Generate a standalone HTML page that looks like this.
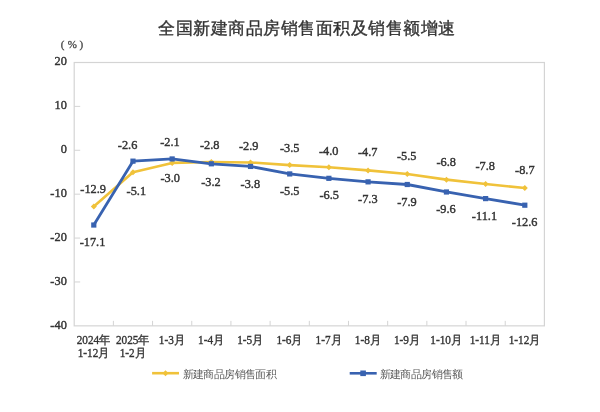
<!DOCTYPE html>
<html><head><meta charset="utf-8"><style>
html,body{margin:0;padding:0;background:#fff;width:600px;height:412px;overflow:hidden}
svg{display:block;filter:blur(0.35px)}
.n{font-family:"Liberation Serif",serif;font-size:13px;fill:#333333;stroke:#333333;stroke-width:0.42px}
.x{font-family:"Liberation Serif",serif;font-size:12px;fill:#333333;stroke:#333333;stroke-width:0.35px}
.lg{font-family:"Liberation Serif",serif;font-size:11px;fill:#5a5a5a;letter-spacing:-0.6px}
.t{font-family:"Liberation Sans",sans-serif;font-size:17px;letter-spacing:0.52px;fill:#333;stroke:#333;stroke-width:0.35px}
.pc{font-family:"Liberation Serif",serif;font-size:11px;fill:#444;stroke:#444;stroke-width:0.3px}
</style></head><body>
<svg width="600" height="412" viewBox="0 0 600 412">
<text x="307" y="34" text-anchor="middle" class="t">全国新建商品房销售面积及销售额增速</text>
<text x="60.7" y="48" class="pc">(</text><text x="67.8" y="48" class="pc">%</text><text x="79.6" y="48" class="pc">)</text>
<rect x="74.2" y="62.5" width="470.20" height="263.35" fill="none" stroke="#d4d4d4" stroke-width="1.2"/>
<line x1="74.2" y1="106.39" x2="80.2" y2="106.39" stroke="#d4d4d4" stroke-width="1"/>
<line x1="74.2" y1="150.28" x2="80.2" y2="150.28" stroke="#d4d4d4" stroke-width="1"/>
<line x1="74.2" y1="194.18" x2="80.2" y2="194.18" stroke="#d4d4d4" stroke-width="1"/>
<line x1="74.2" y1="238.07" x2="80.2" y2="238.07" stroke="#d4d4d4" stroke-width="1"/>
<line x1="74.2" y1="281.96" x2="80.2" y2="281.96" stroke="#d4d4d4" stroke-width="1"/>
<line x1="113.38" y1="325.85" x2="113.38" y2="320.85" stroke="#d4d4d4" stroke-width="1"/>
<line x1="152.57" y1="325.85" x2="152.57" y2="320.85" stroke="#d4d4d4" stroke-width="1"/>
<line x1="191.75" y1="325.85" x2="191.75" y2="320.85" stroke="#d4d4d4" stroke-width="1"/>
<line x1="230.93" y1="325.85" x2="230.93" y2="320.85" stroke="#d4d4d4" stroke-width="1"/>
<line x1="270.12" y1="325.85" x2="270.12" y2="320.85" stroke="#d4d4d4" stroke-width="1"/>
<line x1="309.30" y1="325.85" x2="309.30" y2="320.85" stroke="#d4d4d4" stroke-width="1"/>
<line x1="348.48" y1="325.85" x2="348.48" y2="320.85" stroke="#d4d4d4" stroke-width="1"/>
<line x1="387.67" y1="325.85" x2="387.67" y2="320.85" stroke="#d4d4d4" stroke-width="1"/>
<line x1="426.85" y1="325.85" x2="426.85" y2="320.85" stroke="#d4d4d4" stroke-width="1"/>
<line x1="466.03" y1="325.85" x2="466.03" y2="320.85" stroke="#d4d4d4" stroke-width="1"/>
<line x1="505.22" y1="325.85" x2="505.22" y2="320.85" stroke="#d4d4d4" stroke-width="1"/>
<g transform="translate(66.8,65.40) scale(0.95,1)"><text text-anchor="end" class="n">20</text></g>
<g transform="translate(66.8,109.29) scale(0.95,1)"><text text-anchor="end" class="n">10</text></g>
<g transform="translate(66.8,153.18) scale(0.95,1)"><text text-anchor="end" class="n">0</text></g>
<g transform="translate(66.8,197.08) scale(0.95,1)"><text text-anchor="end" class="n">-10</text></g>
<g transform="translate(66.8,240.97) scale(0.95,1)"><text text-anchor="end" class="n">-20</text></g>
<g transform="translate(66.8,284.86) scale(0.95,1)"><text text-anchor="end" class="n">-30</text></g>
<g transform="translate(66.8,328.75) scale(0.95,1)"><text text-anchor="end" class="n">-40</text></g>
<polyline points="93.79,206.52 132.97,172.17 172.16,162.91 211.34,162.03 250.52,162.47 289.71,165.12 328.89,167.32 368.07,170.40 407.26,173.93 446.44,179.65 485.62,184.06 524.81,188.02" fill="none" stroke="#f0c23a" stroke-width="2.6" stroke-linejoin="round"/>
<polyline points="93.79,225.03 132.97,161.15 172.16,158.95 211.34,163.80 250.52,166.44 289.71,173.93 328.89,178.33 368.07,181.86 407.26,184.50 446.44,191.99 485.62,198.60 524.81,205.20" fill="none" stroke="#3862b0" stroke-width="2.8" stroke-linejoin="round"/>
<path d="M90.79,206.52 L93.79,203.52 L96.79,206.52 L93.79,209.52Z" fill="#f0c23a"/>
<path d="M129.97,172.17 L132.97,169.17 L135.97,172.17 L132.97,175.17Z" fill="#f0c23a"/>
<path d="M169.16,162.91 L172.16,159.91 L175.16,162.91 L172.16,165.91Z" fill="#f0c23a"/>
<path d="M208.34,162.03 L211.34,159.03 L214.34,162.03 L211.34,165.03Z" fill="#f0c23a"/>
<path d="M247.52,162.47 L250.52,159.47 L253.52,162.47 L250.52,165.47Z" fill="#f0c23a"/>
<path d="M286.71,165.12 L289.71,162.12 L292.71,165.12 L289.71,168.12Z" fill="#f0c23a"/>
<path d="M325.89,167.32 L328.89,164.32 L331.89,167.32 L328.89,170.32Z" fill="#f0c23a"/>
<path d="M365.07,170.40 L368.07,167.40 L371.07,170.40 L368.07,173.40Z" fill="#f0c23a"/>
<path d="M404.26,173.93 L407.26,170.93 L410.26,173.93 L407.26,176.93Z" fill="#f0c23a"/>
<path d="M443.44,179.65 L446.44,176.65 L449.44,179.65 L446.44,182.65Z" fill="#f0c23a"/>
<path d="M482.62,184.06 L485.62,181.06 L488.62,184.06 L485.62,187.06Z" fill="#f0c23a"/>
<path d="M521.81,188.02 L524.81,185.02 L527.81,188.02 L524.81,191.02Z" fill="#f0c23a"/>
<rect x="91.19" y="222.43" width="5.2" height="5.2" fill="#3862b0"/>
<rect x="130.38" y="158.55" width="5.2" height="5.2" fill="#3862b0"/>
<rect x="169.56" y="156.35" width="5.2" height="5.2" fill="#3862b0"/>
<rect x="208.74" y="161.20" width="5.2" height="5.2" fill="#3862b0"/>
<rect x="247.92" y="163.84" width="5.2" height="5.2" fill="#3862b0"/>
<rect x="287.11" y="171.33" width="5.2" height="5.2" fill="#3862b0"/>
<rect x="326.29" y="175.73" width="5.2" height="5.2" fill="#3862b0"/>
<rect x="365.47" y="179.26" width="5.2" height="5.2" fill="#3862b0"/>
<rect x="404.66" y="181.90" width="5.2" height="5.2" fill="#3862b0"/>
<rect x="443.84" y="189.39" width="5.2" height="5.2" fill="#3862b0"/>
<rect x="483.02" y="196.00" width="5.2" height="5.2" fill="#3862b0"/>
<rect x="522.21" y="202.60" width="5.2" height="5.2" fill="#3862b0"/>
<g transform="translate(93.2,192.7) scale(0.95,1)"><text text-anchor="middle" class="n">-12.9</text></g>
<g transform="translate(136.35,195.1) scale(0.95,1)"><text text-anchor="middle" class="n">-5.1</text></g>
<g transform="translate(170.15,182.25) scale(0.95,1)"><text text-anchor="middle" class="n">-3.0</text></g>
<g transform="translate(209.65,149.4) scale(0.95,1)"><text text-anchor="middle" class="n">-2.8</text></g>
<g transform="translate(248.65,150.3) scale(0.95,1)"><text text-anchor="middle" class="n">-2.9</text></g>
<g transform="translate(289.65,152) scale(0.95,1)"><text text-anchor="middle" class="n">-3.5</text></g>
<g transform="translate(328.65,154.7) scale(0.95,1)"><text text-anchor="middle" class="n">-4.0</text></g>
<g transform="translate(367.65,156.3) scale(0.95,1)"><text text-anchor="middle" class="n">-4.7</text></g>
<g transform="translate(406.65,160.3) scale(0.95,1)"><text text-anchor="middle" class="n">-5.5</text></g>
<g transform="translate(446.15,165.7) scale(0.95,1)"><text text-anchor="middle" class="n">-6.8</text></g>
<g transform="translate(485.2,170.2) scale(0.95,1)"><text text-anchor="middle" class="n">-7.8</text></g>
<g transform="translate(524.85,173.7) scale(0.95,1)"><text text-anchor="middle" class="n">-8.7</text></g>
<g transform="translate(92.5,245.7) scale(0.95,1)"><text text-anchor="middle" class="n">-17.1</text></g>
<g transform="translate(127.55,149.2) scale(0.95,1)"><text text-anchor="middle" class="n">-2.6</text></g>
<g transform="translate(170,146.3) scale(0.95,1)"><text text-anchor="middle" class="n">-2.1</text></g>
<g transform="translate(211,185.7) scale(0.95,1)"><text text-anchor="middle" class="n">-3.2</text></g>
<g transform="translate(250.35,187.7) scale(0.95,1)"><text text-anchor="middle" class="n">-3.8</text></g>
<g transform="translate(289.65,194.9) scale(0.95,1)"><text text-anchor="middle" class="n">-5.5</text></g>
<g transform="translate(329.2,199.3) scale(0.95,1)"><text text-anchor="middle" class="n">-6.5</text></g>
<g transform="translate(367.85,202.7) scale(0.95,1)"><text text-anchor="middle" class="n">-7.3</text></g>
<g transform="translate(407,206) scale(0.95,1)"><text text-anchor="middle" class="n">-7.9</text></g>
<g transform="translate(446,213.3) scale(0.95,1)"><text text-anchor="middle" class="n">-9.6</text></g>
<g transform="translate(484.45,219.9) scale(0.95,1)"><text text-anchor="middle" class="n">-11.1</text></g>
<g transform="translate(524.7,226.4) scale(0.95,1)"><text text-anchor="middle" class="n">-12.6</text></g>
<g transform="translate(93.79,344) scale(0.94,1)"><text text-anchor="middle" class="x">2024年</text></g>
<g transform="translate(93.79,357) scale(0.94,1)"><text text-anchor="middle" class="x">1-12月</text></g>
<g transform="translate(132.97,344) scale(0.94,1)"><text text-anchor="middle" class="x">2025年</text></g>
<g transform="translate(132.97,357) scale(0.94,1)"><text text-anchor="middle" class="x">1-2月</text></g>
<g transform="translate(172.16,344) scale(0.94,1)"><text text-anchor="middle" class="x">1-3月</text></g>
<g transform="translate(211.34,344) scale(0.94,1)"><text text-anchor="middle" class="x">1-4月</text></g>
<g transform="translate(250.52,344) scale(0.94,1)"><text text-anchor="middle" class="x">1-5月</text></g>
<g transform="translate(289.71,344) scale(0.94,1)"><text text-anchor="middle" class="x">1-6月</text></g>
<g transform="translate(328.89,344) scale(0.94,1)"><text text-anchor="middle" class="x">1-7月</text></g>
<g transform="translate(368.07,344) scale(0.94,1)"><text text-anchor="middle" class="x">1-8月</text></g>
<g transform="translate(407.26,344) scale(0.94,1)"><text text-anchor="middle" class="x">1-9月</text></g>
<g transform="translate(446.44,344) scale(0.94,1)"><text text-anchor="middle" class="x">1-10月</text></g>
<g transform="translate(485.62,344) scale(0.94,1)"><text text-anchor="middle" class="x">1-11月</text></g>
<g transform="translate(524.81,344) scale(0.94,1)"><text text-anchor="middle" class="x">1-12月</text></g>
<line x1="152.1" y1="373.2" x2="179" y2="373.2" stroke="#f0c23a" stroke-width="2.6"/>
<path d="M162.5,373.3 L165.5,370.3 L168.5,373.3 L165.5,376.3Z" fill="#f0c23a"/>
<text x="182.5" y="377.8" class="lg">新建商品房销售面积</text>
<line x1="349.7" y1="373.3" x2="376.7" y2="373.3" stroke="#3862b0" stroke-width="2.6"/>
<rect x="360.3" y="370.5" width="5.6" height="5.6" fill="#3862b0"/>
<text x="379.6" y="377.8" class="lg">新建商品房销售额</text>
</svg>
</body></html>
